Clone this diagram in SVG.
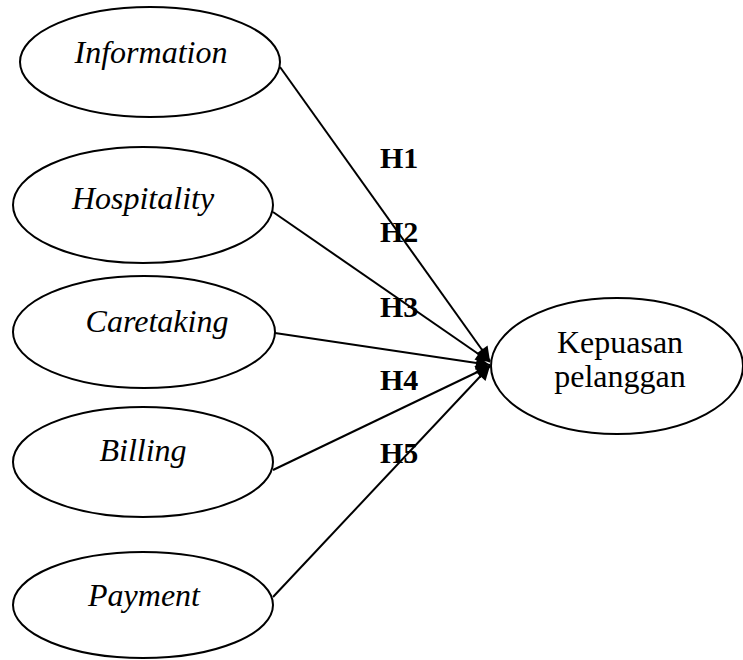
<svg xmlns="http://www.w3.org/2000/svg" width="743" height="660" viewBox="0 0 743 660">
<style>
.node ellipse{fill:#fff;stroke:#000;stroke-width:2}
.lbl{font-family:"Liberation Serif","Times New Roman",serif;font-size:32px;font-style:italic;text-anchor:middle;fill:#000}
.kp{font-family:"Liberation Serif","Times New Roman",serif;font-size:32px;text-anchor:middle;fill:#000}
.h{font-family:"Liberation Serif","Times New Roman",serif;font-size:30px;font-weight:bold;fill:#000}
.edge line{stroke:#000;stroke-width:2;marker-end:url(#arr)}
</style>
<defs>
<marker id="arr" viewBox="0 0 10 10" refX="10" refY="5" markerWidth="18" markerHeight="14" markerUnits="userSpaceOnUse" orient="auto">
<path d="M0,0 L10,5 L0,10 z" fill="#000"/>
</marker>
</defs>
<g id="information" class="node"><ellipse cx="150" cy="62" rx="130" ry="55"/><text class="lbl" x="151" y="63">Information</text></g>
<g id="hospitality" class="node"><ellipse cx="143" cy="205" rx="130" ry="58"/><text class="lbl" x="143" y="209">Hospitality</text></g>
<g id="caretaking" class="node"><ellipse cx="144" cy="332" rx="131" ry="56"/><text class="lbl" x="157" y="332">Caretaking</text></g>
<g id="billing" class="node"><ellipse cx="143" cy="462" rx="130" ry="55"/><text class="lbl" x="143" y="461">Billing</text></g>
<g id="payment" class="node"><ellipse cx="143" cy="605" rx="130" ry="53"/><text class="lbl" x="144" y="606">Payment</text></g>
<g id="kepuasan" class="node"><ellipse cx="617" cy="366" rx="126" ry="68"/><text class="kp" x="620" y="353">Kepuasan</text><text class="kp" x="620" y="387">pelanggan</text></g>
<g id="connectors" class="edge">
<line x1="280" y1="67" x2="490" y2="361"/>
<line x1="273" y1="212" x2="490" y2="362"/>
<line x1="275" y1="333" x2="490" y2="365"/>
<line x1="273" y1="470" x2="490" y2="366"/>
<line x1="273" y1="597" x2="490" y2="366"/>
</g>
<g id="labels">
<text class="h" x="380" y="168">H1</text>
<text class="h" x="380" y="242">H2</text>
<text class="h" x="380" y="317">H3</text>
<text class="h" x="380" y="390">H4</text>
<text class="h" x="380" y="463">H5</text>
</g>
</svg>
